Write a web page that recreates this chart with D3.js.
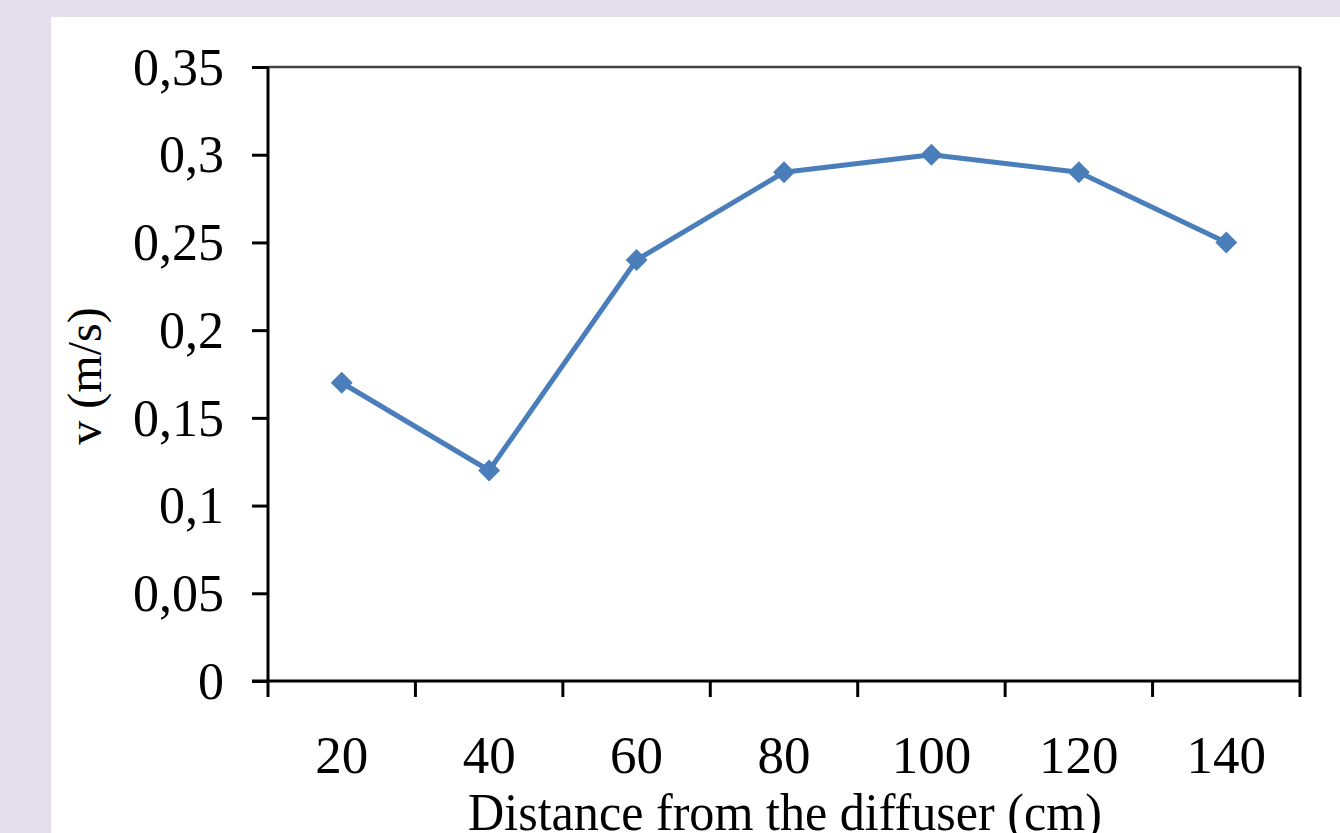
<!DOCTYPE html>
<html>
<head>
<meta charset="utf-8">
<script src="https://cdn.jsdelivr.net/npm/d3@7"></script>
<style>
  html, body { margin: 0; padding: 0; background: #e5dfed; }
  svg { display: block; }
  text { font-family: "Liberation Serif", "Times New Roman", serif; fill: #000; }
</style>
</head>
<body>
<svg id="chart" width="1340" height="833"></svg>
<script>
const categories = ["20", "40", "60", "80", "100", "120", "140"];
const values = [0.17, 0.12, 0.24, 0.29, 0.30, 0.29, 0.25];
const yTicks = [0, 0.05, 0.1, 0.15, 0.2, 0.25, 0.3, 0.35];
const yTickLabels = ["0", "0,05", "0,1", "0,15", "0,2", "0,25", "0,3", "0,35"];
const xTitle = "Distance from the diffuser (cm)";
const yTitle = "v (m/s)";

(function () {
const svg = d3.select("#chart");
svg.append("rect").attr("x", 0).attr("y", 0).attr("width", 1340).attr("height", 833).attr("fill", "#e5dfed");
svg.append("rect").attr("x", 51).attr("y", 17).attr("width", 1289).attr("height", 816).attr("fill", "#ffffff");

const pL = 268, pR = 1300, pT = 67, pB = 681;
const x = d3.scaleBand().domain(categories).range([pL, pR]).padding(0);
const y = d3.scaleLinear().domain([0, 0.35]).range([pB, pT]);

// top border and right border
svg.append("line").attr("x1", pL).attr("x2", pR).attr("y1", pT).attr("y2", pT)
  .attr("stroke", "#444").attr("stroke-width", 2.5);
svg.append("line").attr("x1", pR).attr("x2", pR).attr("y1", pT).attr("y2", pB)
  .attr("stroke", "#000").attr("stroke-width", 3);

// y axis
const yAxis = svg.append("g").attr("transform", `translate(${pL},0)`)
  .call(d3.axisLeft(y).tickValues(yTicks).tickSize(16).tickPadding(28)
    .tickFormat((d, i) => yTickLabels[i]));
yAxis.select(".domain").attr("stroke", "#000").attr("stroke-width", 3).attr("d", `M0,${pT}V${pB}`);
yAxis.selectAll(".tick line").attr("stroke", "#000").attr("stroke-width", 3);
yAxis.selectAll(".tick text").attr("font-size", 52).attr("font-family", "Liberation Serif, serif").attr("dy", "0.33em");

// x axis: ticks at category boundaries
const boundaries = categories.map(c => x(c)).concat([pR]);
const xAxisG = svg.append("g").attr("transform", `translate(0,${pB})`);
xAxisG.append("line").attr("x1", pL - 16).attr("x2", pR).attr("y1", 0).attr("y2", 0)
  .attr("stroke", "#000").attr("stroke-width", 3);
xAxisG.selectAll("line.tk").data(boundaries).enter().append("line").attr("class", "tk")
  .attr("x1", d => d).attr("x2", d => d).attr("y1", 0).attr("y2", 16)
  .attr("stroke", "#000").attr("stroke-width", 3);
xAxisG.selectAll("text.lbl").data(categories).enter().append("text").attr("class", "lbl")
  .attr("x", d => x(d) + x.bandwidth() / 2).attr("y", 92)
  .attr("text-anchor", "middle").attr("font-size", 53).text(d => d);

// titles
svg.append("text").attr("x", 785).attr("y", 830).attr("text-anchor", "middle")
  .attr("font-size", 53).attr("textLength", 634).attr("lengthAdjust", "spacingAndGlyphs")
  .text(xTitle);
svg.append("text").attr("transform", "translate(101,376) rotate(-90)").attr("text-anchor", "middle")
  .attr("font-size", 48).text(yTitle);

// line
const cx = d => x(d) + x.bandwidth() / 2;
const line = d3.line().x((d, i) => cx(categories[i])).y(d => y(d));
svg.append("path").datum(values).attr("d", line).attr("fill", "none")
  .attr("stroke", "#4a7ebb").attr("stroke-width", 5).attr("stroke-linejoin", "round");

const sym = d3.symbol().type(d3.symbolSquare).size(240);
svg.selectAll("path.mk").data(values).enter().append("path").attr("class", "mk")
  .attr("d", sym)
  .attr("transform", (d, i) => `translate(${cx(categories[i])},${y(d)}) rotate(45)`)
  .attr("fill", "#4a7ebb");
})();
</script>
</body>
</html>
